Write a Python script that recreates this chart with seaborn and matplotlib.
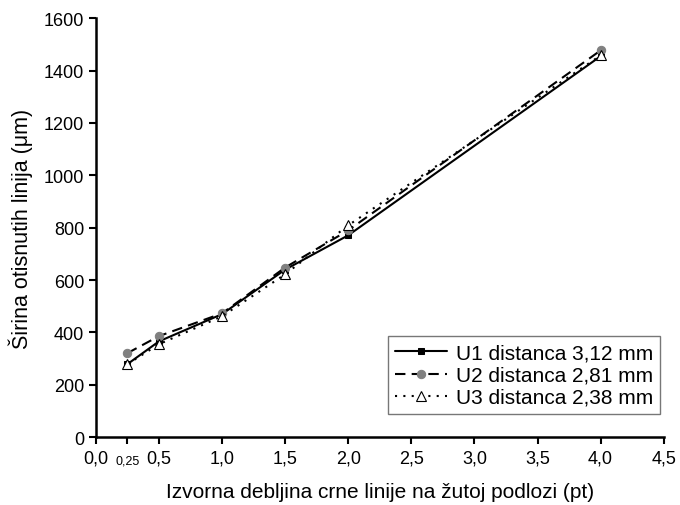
import numpy as np
import pandas as pd
import matplotlib
matplotlib.use("Agg")
import matplotlib.pyplot as plt
import matplotlib.transforms as mtransforms
import seaborn as sns

# values
debljina = [0.25, 0.5, 1.0, 1.5, 2.0, 4.0]
u1 = [279, 366, 470, 640, 771, 1455]
u2 = [321, 386, 473, 648, 790, 1477]
u3 = [279, 355, 462, 622, 809, 1458]
labels = ["U1 distanca 3,12 mm", "U2 distanca 2,81 mm", "U3 distanca 2,38 mm"]
x_ticks = [0.0, 0.25, 0.5, 1.0, 1.5, 2.0, 2.5, 3.0, 3.5, 4.0, 4.5]
x_tick_labels = ["0,0", "0,25", "0,5", "1,0", "1,5", "2,0", "2,5", "3,0", "3,5", "4,0", "4,5"]
y_ticks = [0, 200, 400, 600, 800, 1000, 1200, 1400, 1600]

sns.set_style("ticks")
plt.rcParams['font.family'] = ['Liberation Sans', 'DejaVu Sans']
plt.rcParams['text.color'] = 'black'
plt.rcParams['axes.labelcolor'] = 'black'

fig = plt.figure(figsize=(6.8, 5.06), dpi=100)
ax = fig.add_axes([0.141, 0.134, 0.835, 0.828])

styles = [
    dict(linestyle='-', marker='s', color='black', markersize=5,
         markerfacecolor='black', markeredgecolor='black'),
    dict(linestyle=(0, (5, 3)), marker='o', color='black', markersize=6,
         markerfacecolor='#808080', markeredgecolor='#808080'),
    dict(linestyle=(0, (1, 3)), marker='^', color='black', markersize=7,
         markerfacecolor='white', markeredgecolor='black', markeredgewidth=0.8),
]
for vals, lab, st in zip([u1, u2, u3], labels, styles):
    df = pd.DataFrame({'x': debljina, 'y': vals})
    sns.lineplot(data=df, x='x', y='y', ax=ax, label=lab, linewidth=1.5, **st)

ax.set_xlim(0, 4.5)
ax.set_ylim(0, 1600)
ax.set_xticks(x_ticks)
ax.set_xticklabels(x_tick_labels)
ax.set_yticks(y_ticks)
ax.set_yticklabels([str(v) for v in y_ticks])
ax.tick_params(axis='both', labelsize=13, direction='out', length=5, width=1.5,
               colors='black', labelcolor='black')
for lbl in ax.get_xticklabels():
    if lbl.get_text() == "0,25":
        lbl.set_fontsize(9)
        # drop the small label so its baseline sits with the others
        lbl.set_transform(lbl.get_transform() + mtransforms.ScaledTranslation(0, -4 / 72, fig.dpi_scale_trans))

for side in ['top', 'right']:
    ax.spines[side].set_visible(False)
for side in ['left', 'bottom']:
    ax.spines[side].set_linewidth(1.8)
    ax.spines[side].set_color('black')

ax.set_xlabel("Izvorna debljina crne linije na žutoj podlozi (pt)", fontsize=15, labelpad=11)
ax.set_ylabel("Širina otisnutih linija (μm)", fontsize=15.5, labelpad=8)

leg = ax.legend(loc='lower right', bbox_to_anchor=(1.012, 0.03), fontsize=15,
                frameon=True, fancybox=False, edgecolor='#555555',
                handlelength=2.5, borderpad=0.35, labelspacing=0.15, handletextpad=0.4)
leg.get_frame().set_linewidth(1.0)

fig.savefig("out.png", dpi=100)
